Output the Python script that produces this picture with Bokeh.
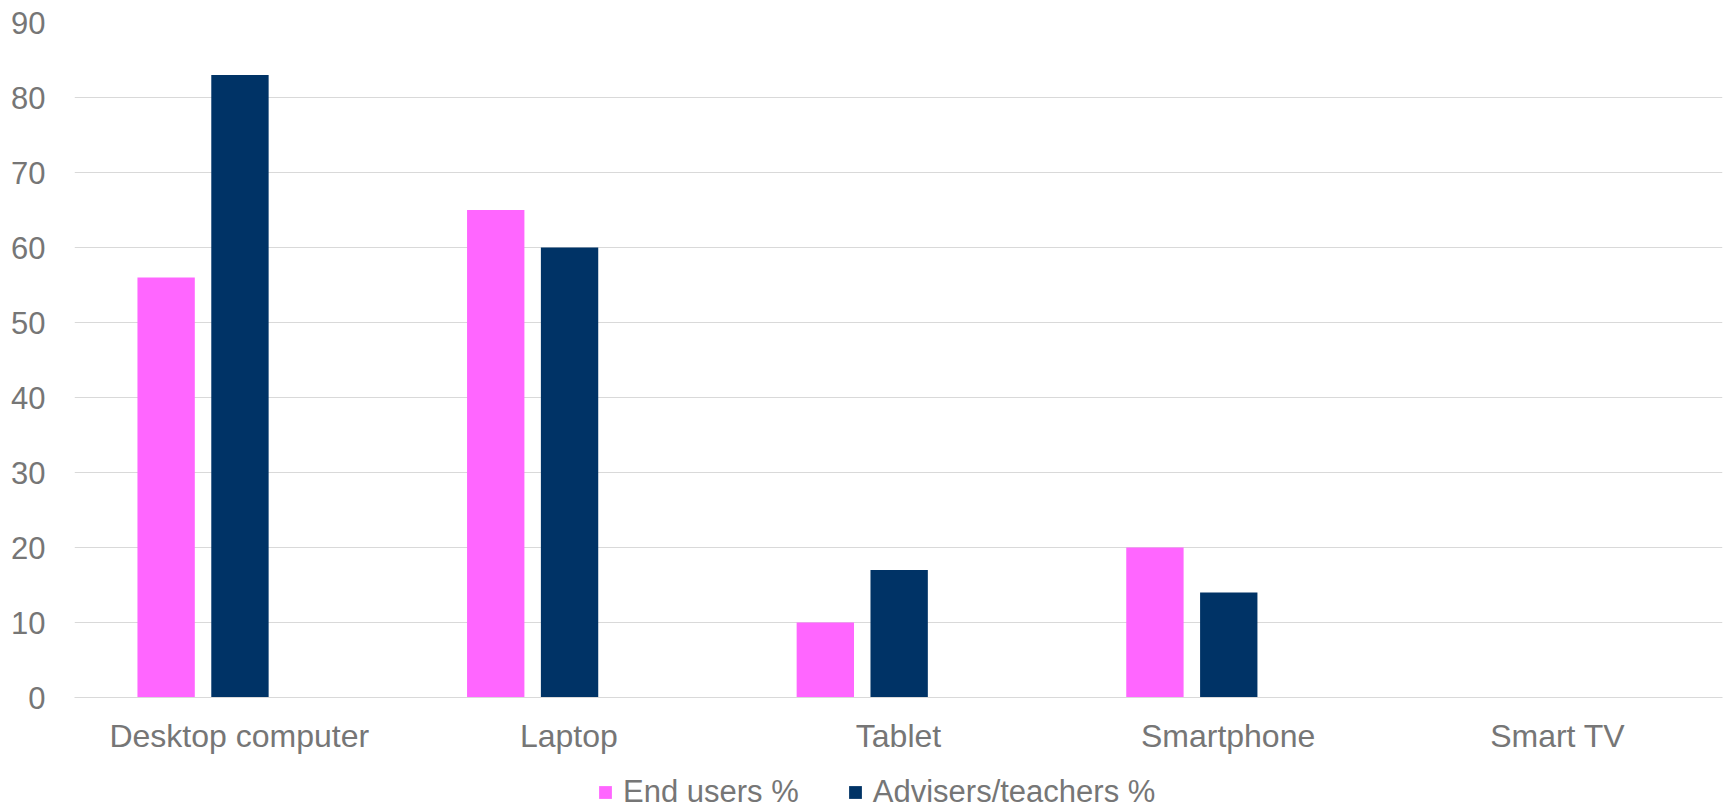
from bokeh.plotting import figure
from bokeh.layouts import column
from bokeh.models import FactorRange, Range1d, FixedTicker, Legend, LegendItem, ColumnDataSource
from bokeh.transform import dodge
from bokeh.embed import file_html
from bokeh.resources import INLINE

categories = ["Desktop computer", "Laptop", "Tablet", "Smartphone", "Smart TV"]
end_users = [56, 65, 10, 20, 0]
advisers = [83, 60, 17, 14, 0]
series_names = ["End users %", "Advisers/teachers %"]
series_colors = ["#FF66FF", "#003366"]
y_ticks = [0, 10, 20, 30, 40, 50, 60, 70, 80, 90]

TEXT = "#767676"
GRID = "#D9D9D9"
FONT = "Liberation Sans"

src = ColumnDataSource(dict(cat=categories, end=end_users, adv=advisers))

p = figure(
    x_range=FactorRange(*categories, range_padding=0),
    y_range=Range1d(0, 90),
    frame_width=1648, frame_height=675,
    min_border_left=74, min_border_right=1, min_border_top=22, min_border_bottom=75,
    output_backend="svg", toolbar_location=None,
)

p.vbar(x=dodge("cat", -0.222, range=p.x_range), top="end", width=0.174,
       source=src, fill_color=series_colors[0], line_color=None)
p.vbar(x=dodge("cat", 0.002, range=p.x_range), top="adv", width=0.174,
       source=src, fill_color=series_colors[1], line_color=None)

p.outline_line_color = None
p.xgrid.grid_line_color = None
p.ygrid.grid_line_color = GRID
p.ygrid.grid_line_width = 1

p.yaxis.ticker = FixedTicker(ticks=y_ticks)
p.yaxis.axis_line_color = None
p.yaxis.major_tick_line_color = None
p.yaxis.minor_tick_line_color = None
p.yaxis.major_label_standoff = 23
p.yaxis.major_label_text_font = FONT
p.yaxis.major_label_text_font_size = "31px"
p.yaxis.major_label_text_color = TEXT

p.xaxis.axis_line_color = GRID
p.xaxis.axis_line_width = 1
p.xaxis.major_tick_line_color = None
p.xaxis.minor_tick_line_color = None
p.xaxis.major_label_standoff = 14
p.xaxis.major_label_text_font = FONT
p.xaxis.major_label_text_font_size = "32px"
p.xaxis.major_label_text_color = TEXT

# legend strip below the chart (same borders as the chart so frames line up)
lf = figure(
    frame_width=1648, frame_height=38,
    x_range=Range1d(0, 1), y_range=Range1d(0, 1),
    x_axis_type=None, y_axis_type=None,
    min_border_left=74, min_border_right=1, min_border_top=0, min_border_bottom=0,
    output_backend="svg", toolbar_location=None,
)
lf.outline_line_color = None
lf.xgrid.grid_line_color = None
lf.ygrid.grid_line_color = None
# legend-only swatches (zero height, nothing drawn)
swatch = ColumnDataSource(dict(x=[0.5], top=[0]))
l1 = lf.vbar(x="x", top="top", width=0.01, source=swatch, fill_color=series_colors[0], line_color=None)
l2 = lf.vbar(x="x", top="top", width=0.01, source=swatch, fill_color=series_colors[1], line_color=None)

legend = Legend(
    items=[LegendItem(label=series_names[0], renderers=[l1]),
           LegendItem(label=series_names[1], renderers=[l2])],
    orientation="horizontal",
    location=(523, 0),
    padding=0, margin=0, spacing=48,
    glyph_width=16, glyph_height=16, label_standoff=10,
    label_text_font=FONT, label_text_font_size="31px", label_text_color=TEXT,
    border_line_color=None, background_fill_alpha=0,
)
lf.add_layout(legend, "center")

layout = column(p, lf, spacing=0)

open("out.html", "w").write(file_html(layout, INLINE))
